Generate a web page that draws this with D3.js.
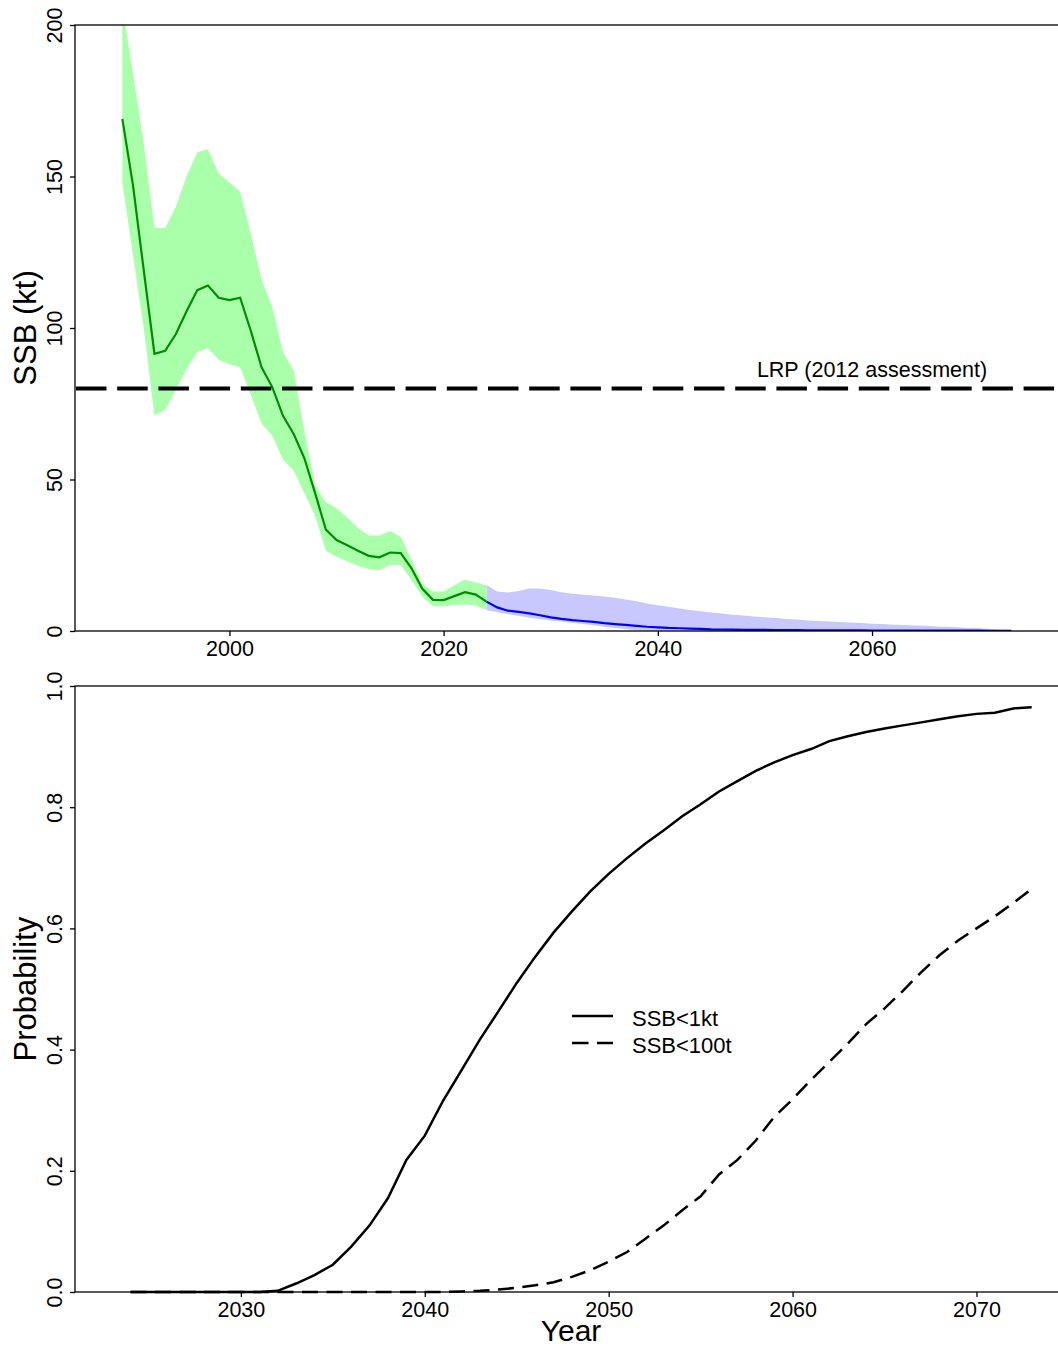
<!DOCTYPE html>
<html>
<head>
<meta charset="utf-8">
<script src="https://cdn.jsdelivr.net/npm/d3@7"></script>
<style>
  body { margin: 0; background: #fff; }
  svg { display: block; font-family: "Liberation Sans", Arial, sans-serif; }
  .axis path.domain { display: none; }
  .axis line { stroke: #000; stroke-width: 1.3; }
  .axis text { fill: #000; font-size: 21.5px; font-family: "Liberation Sans", Arial, sans-serif; }
</style>
</head>
<body>
<div id="graph"></div>
<script>
// ---- data ----
const histYears = d3.range(1990, 2025);
const histMedian = [169, 147, 119, 91.5, 92.5, 98, 105.5, 112.5, 114, 110,
  109.2, 110, 99, 87, 80.5, 71, 65, 57, 45.5, 33.5,
  30, 28.3, 26.5, 24.8, 24.3, 25.9, 25.7, 20.7, 14, 10.3,
  10.2, 11.5, 12.8, 12, 9.7];
const histUpper = [206, 184, 161, 133, 133, 140, 150, 158, 159, 151,
  148, 145, 131, 116, 107, 92, 86, 66, 48, 42.5,
  40.5, 37.5, 34, 31.5, 31.5, 33, 31, 23.5, 15.5, 13,
  13, 15, 17, 16, 15];
const histLower = [148, 124, 100, 71, 73, 79.5, 86.5, 92, 93.3, 89.5,
  88, 87, 78, 68.5, 64.5, 56.5, 53, 45.5, 38, 26.5,
  24.5, 23, 21.5, 20.5, 20, 21.8, 21.8, 16.8, 11.5, 8.2,
  8.2, 8.5, 8.8, 8.3, 6.9];

const projYears = d3.range(2024, 2074);
const projMedian = [9.7, 7.8, 6.7, 6.3, 5.8, 5.2, 4.5, 4.0, 3.6, 3.3,
  3.0, 2.6, 2.3, 2.0, 1.7, 1.4, 1.2, 1.0, 0.9, 0.8,
  0.7, 0.55, 0.5, 0.45, 0.4, 0.38, 0.35, 0.3, 0.28, 0.26,
  0.25, 0.23, 0.22, 0.2, 0.2, 0.18, 0.17, 0.16, 0.15, 0.14,
  0.13, 0.12, 0.12, 0.11, 0.1, 0.1, 0.1, 0.09, 0.09, 0.08];
const projUpper = [15.2, 13, 12.7, 13.2, 14, 14, 13.5, 12.8, 12.3, 12,
  11.7, 11.4, 11, 10.4, 9.8, 9.1, 8.5, 8, 7.4, 6.9,
  6.5, 6.1, 5.8, 5.4, 5.1, 4.8, 4.5, 4.3, 4.0, 3.8,
  3.5, 3.3, 3.1, 3.0, 2.8, 2.6, 2.4, 2.3, 2.1, 2.0,
  1.8, 1.7, 1.5, 1.4, 1.2, 1.0, 0.9, 0.7, 0.5, 0.4];
const projLower = [6.9, 6.2, 5.5, 5.0, 4.4, 3.9, 3.5, 3.1, 2.7, 2.3,
  1.9, 1.4, 1.0, 0.6, 0.3, 0.15, 0.1, 0.08, 0.06, 0.05,
  0.04, 0.04, 0.03, 0.03, 0.03, 0.02, 0.02, 0.02, 0.02, 0.02,
  0.01, 0.01, 0.01, 0.01, 0.01, 0.01, 0.01, 0.01, 0.01, 0.01,
  0.01, 0.01, 0.01, 0.01, 0.01, 0.01, 0.01, 0.01, 0.01, 0.01];

const lrpValue = 80;
const lrpLabel = "LRP (2012 assessment)";

const probYears = d3.range(2024, 2074);
const pBelow1kt = [0, 0, 0, 0, 0, 0, 0, 0, 0.002, 0.014,
  0.028, 0.045, 0.075, 0.11, 0.155, 0.218, 0.258, 0.316, 0.366, 0.417,
  0.463, 0.51, 0.553, 0.593, 0.628, 0.661, 0.69, 0.716, 0.74, 0.762,
  0.785, 0.805, 0.826, 0.843, 0.86, 0.874, 0.886, 0.896, 0.909, 0.917,
  0.924, 0.93, 0.935, 0.94, 0.945, 0.95, 0.954, 0.956, 0.963, 0.965];
const pBelow100t = [0, 0, 0, 0, 0, 0, 0, 0, 0, 0,
  0, 0, 0, 0, 0, 0, 0, 0, 0.001, 0.002,
  0.004, 0.007, 0.011, 0.016, 0.025, 0.036, 0.05, 0.066, 0.088, 0.11,
  0.135, 0.158, 0.194, 0.218, 0.25, 0.289, 0.318, 0.35, 0.38, 0.41,
  0.442, 0.468, 0.497, 0.528, 0.556, 0.58, 0.6, 0.62, 0.642, 0.665];
const legendLabels = ["SSB<1kt", "SSB<100t"];

const ssbTicks = [0, 50, 100, 150, 200];
const topYearTicks = [2000, 2020, 2040, 2060];
const probTicks = [0, 0.2, 0.4, 0.6, 0.8, 1.0];
const bottomYearTicks = [2030, 2040, 2050, 2060, 2070];

// ---- layout ----
const W = 1058, H = 1348;
const left = 75, right = 1058.7;
const top1 = 25, bot1 = 631;
const top2 = 686, bot2 = 1292;

const graph = document.getElementById('graph');
graph.innerHTML = '<svg width="' + W + '" height="' + H + '"></svg>';
const svg = d3.select('svg');
svg.append("rect").attr("width", W).attr("height", H).attr("fill", "#fff");

const x1 = d3.scaleLinear().domain([1985.58, 2077.43]).range([left, right]);
const y1 = d3.scaleLinear().domain([0, 200]).range([bot1, top1]);
const x2 = d3.scaleLinear().domain([2020.98, 2074.47]).range([left, right]);
const y2 = d3.scaleLinear().domain([0, 1]).range([bot2, top2]);

svg.append("defs").append("clipPath").attr("id", "clip1")
  .append("rect").attr("x", left).attr("y", top1)
  .attr("width", right - left).attr("height", bot1 - top1);

// ---- top panel ----
const p1 = svg.append("g").attr("clip-path", "url(#clip1)");

const histBand = histYears.map((yr, i) => ({yr, lo: histLower[i], hi: histUpper[i]}));
const projBand = projYears.map((yr, i) => ({yr, lo: projLower[i], hi: projUpper[i]}));

const area1 = d3.area().x(d => x1(d.yr)).y0(d => y1(d.lo)).y1(d => y1(d.hi));

p1.append("path").datum(projBand).attr("d", area1).attr("fill", "#c8c8ff");
p1.append("path").datum(histBand).attr("d", area1).attr("fill", "#aaffaa");

const line1 = d3.line().x(d => x1(d[0])).y(d => y1(d[1]));
p1.append("path")
  .datum(projYears.map((yr, i) => [yr, projMedian[i]]))
  .attr("d", line1).attr("fill", "none")
  .attr("stroke", "#0000ff").attr("stroke-width", 2.2);
p1.append("path")
  .datum(histYears.map((yr, i) => [yr, histMedian[i]]))
  .attr("d", line1).attr("fill", "none")
  .attr("stroke", "#008c00").attr("stroke-width", 2.2);

// LRP reference line
svg.append("line")
  .attr("x1", left + 1).attr("x2", right)
  .attr("y1", y1(lrpValue)).attr("y2", y1(lrpValue))
  .attr("stroke", "#000").attr("stroke-width", 4)
  .attr("stroke-dasharray", "30.5,10.7");
svg.append("text")
  .attr("x", x1(2060)).attr("y", y1(lrpValue) - 12)
  .attr("text-anchor", "middle")
  .attr("font-size", "21.5px")
  .text(lrpLabel);

// axes top
const yAxis1 = svg.append("g").attr("class", "axis")
  .attr("transform", "translate(" + left + ",0)")
  .call(d3.axisLeft(y1).tickValues(ssbTicks).tickSize(5).tickSizeOuter(0));
yAxis1.selectAll("text")
  .attr("x", null).attr("dy", null)
  .attr("text-anchor", "middle")
  .attr("transform", "translate(-13,0) rotate(-90)");

svg.append("g").attr("class", "axis")
  .attr("transform", "translate(0," + bot1 + ")")
  .call(d3.axisBottom(x1).tickValues(topYearTicks).tickFormat(d3.format("d"))
    .tickSize(5).tickPadding(5).tickSizeOuter(0));

svg.append("rect")
  .attr("x", left).attr("y", top1)
  .attr("width", right - left).attr("height", bot1 - top1)
  .attr("fill", "none").attr("stroke", "#000").attr("stroke-width", 1.3);

svg.append("text")
  .attr("transform", "translate(36," + ((top1 + bot1) / 2) + ") rotate(-90)")
  .attr("text-anchor", "middle")
  .attr("font-size", "31px")
  .text("SSB (kt)");

// ---- bottom panel ----
const line2 = d3.line().x(d => x2(d[0])).y(d => y2(d[1]));

svg.append("path")
  .datum(probYears.map((yr, i) => [yr, pBelow100t[i]]))
  .attr("d", line2).attr("fill", "none")
  .attr("stroke", "#000").attr("stroke-width", 2.5)
  .attr("stroke-dasharray", "16,8.5");
svg.append("path")
  .datum(probYears.map((yr, i) => [yr, pBelow1kt[i]]))
  .attr("d", line2).attr("fill", "none")
  .attr("stroke", "#000").attr("stroke-width", 2.5);

const yAxis2 = svg.append("g").attr("class", "axis")
  .attr("transform", "translate(" + left + ",0)")
  .call(d3.axisLeft(y2).tickValues(probTicks).tickFormat(d3.format(".1f"))
    .tickSize(5).tickSizeOuter(0));
yAxis2.selectAll("text")
  .attr("x", null).attr("dy", null)
  .attr("text-anchor", "middle")
  .attr("transform", "translate(-13,0) rotate(-90)");

svg.append("g").attr("class", "axis")
  .attr("transform", "translate(0," + bot2 + ")")
  .call(d3.axisBottom(x2).tickValues(bottomYearTicks).tickFormat(d3.format("d"))
    .tickSize(5).tickPadding(5).tickSizeOuter(0));

svg.append("rect")
  .attr("x", left).attr("y", top2)
  .attr("width", right - left).attr("height", bot2 - top2)
  .attr("fill", "none").attr("stroke", "#000").attr("stroke-width", 1.3);

svg.append("text")
  .attr("transform", "translate(36," + ((top2 + bot2) / 2) + ") rotate(-90)")
  .attr("text-anchor", "middle")
  .attr("font-size", "31px")
  .text("Probability");

svg.append("text")
  .attr("x", 571).attr("y", 1341)
  .attr("text-anchor", "middle")
  .attr("font-size", "30px")
  .text("Year");

// legend
const legend = svg.append("g").attr("transform", "translate(572,1016)");
legendLabels.forEach((lab, i) => {
  const g = legend.append("g").attr("transform", "translate(0," + (i * 27) + ")");
  g.append("line").attr("x1", 0).attr("x2", 41).attr("y1", 0).attr("y2", 0)
    .attr("stroke", "#000").attr("stroke-width", 2.5)
    .attr("stroke-dasharray", i === 1 ? "16.5,8.5" : null);
  g.append("text").attr("x", 60).attr("y", 10)
    .attr("font-size", "22px")
    .text(lab);
});
</script>
</body>
</html>
